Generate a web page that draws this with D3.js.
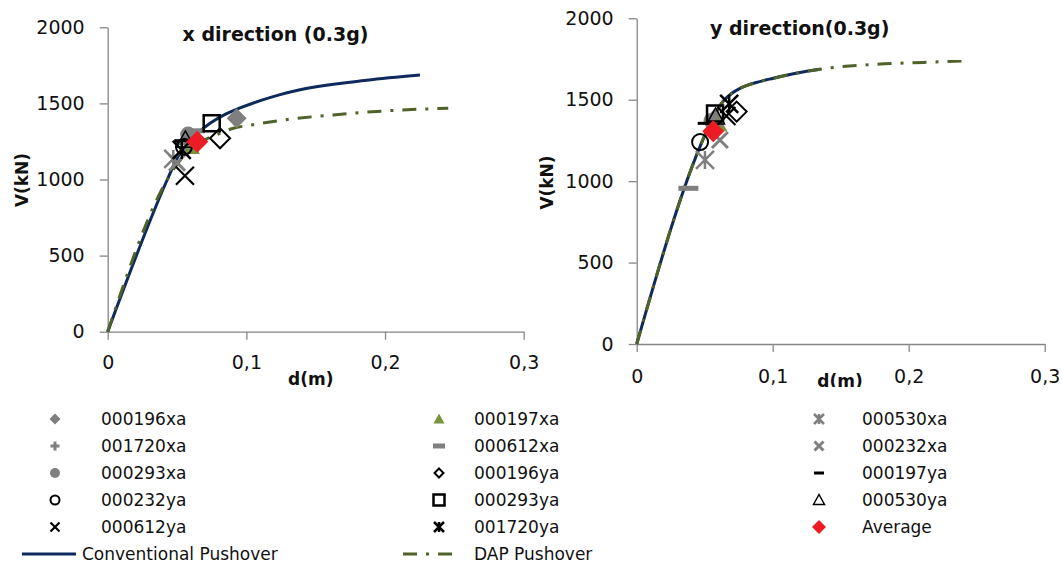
<!DOCTYPE html>
<html>
<head>
<meta charset="utf-8">
<script src="https://cdn.jsdelivr.net/npm/d3@7"></script>
<style>
  body { margin: 0; background: #fff; }
  svg text { font-family: "DejaVu Sans", sans-serif; fill: #111; }
</style>
</head>
<body>
<div id="chart"></div>
<script>
// axis ticks
const dTicks = [0, 0.1, 0.2, 0.3];
const dTickLabels = ["0", "0,1", "0,2", "0,3"];
const vTicks = [0, 500, 1000, 1500, 2000];

// pushover curves, x direction
const xConvD = [0, 0.043, 0.05, 0.06, 0.0738, 0.085, 0.0954, 0.11, 0.1243, 0.1387, 0.1868, 0.2252];
const xConvV = [0, 1000, 1140, 1260, 1369, 1430, 1470, 1518, 1558, 1590, 1652, 1686];
const xDapD = [0, 0.043, 0.05, 0.06, 0.07, 0.08, 0.09, 0.105, 0.1266, 0.1627, 0.1988, 0.2456];
const xDapV = [0, 1000, 1100, 1200, 1260, 1300, 1335, 1360, 1391, 1424, 1450, 1468];

// pushover curves, y direction
const yConvD = [0, 0.05, 0.055, 0.0637, 0.07, 0.076, 0.088, 0.1005, 0.118, 0.1348];
const yConvV = [0, 1280, 1370, 1492, 1540, 1570, 1606, 1632, 1664, 1687];
const yDapD = [0, 0.05, 0.055, 0.0637, 0.07, 0.076, 0.088, 0.1005, 0.118, 0.1348, 0.142, 0.174, 0.211, 0.245];
const yDapV = [0, 1280, 1370, 1492, 1540, 1570, 1606, 1632, 1664, 1687, 1695, 1717, 1729, 1740];

// time-history records (series order as in the legend, row by row)
const records = ["000196xa", "000197xa", "000530xa", "001720xa", "000612xa", "000232xa",
  "000293xa", "000196ya", "000197ya", "000232ya", "000293ya", "000530ya",
  "000612ya", "001720ya", "Average"];
const xDirD = [0.093, 0.06, 0.0473, 0.056, 0.063, 0.05, 0.058, 0.081, 0.053, 0.055, 0.075, 0.056, 0.0557, 0.0534, 0.0646];
const xDirV = [1402, 1215, 1135, 1235, 1320, 1110, 1295, 1271, 1255, 1215, 1369, 1260, 1025, 1194, 1248];
const yDirD = [0.057, 0.06, 0.0502, 0.058, 0.038, 0.0612, 0.055, 0.0735, 0.05, 0.0466, 0.0576, 0.058, 0.066, 0.068, 0.0563];
const yDirV = [1380, 1350, 1130, 1345, 956, 1253, 1370, 1427, 1355, 1240, 1415, 1395, 1400, 1475, 1306];

const gray = "#7f7f7f", navy = "#0e2a5c", olive = "#4f6228";
const style = {
  "000196xa": { shape: "diamond", fill: gray, r: 10, lr: 5.5 },
  "000197xa": { shape: "triangle", fill: "#77933c", r: 9, lr: 5.5 },
  "000530xa": { shape: "star", stroke: gray, sw: 2.5, r: 9, lr: 5 },
  "001720xa": { shape: "plus", stroke: gray, sw: 3, r: 8, lr: 4.5 },
  "000612xa": { shape: "dash", stroke: gray, sw: 5, r: 10, lr: 6 },
  "000232xa": { shape: "x", stroke: gray, sw: 3, r: 8, lr: 4.5 },
  "000293xa": { shape: "circle", fill: gray, r: 8, lr: 5 },
  "000196ya": { shape: "diamond", stroke: "#000", sw: 2, r: 10, lr: 4.5 },
  "000197ya": { shape: "dash", stroke: "#000", sw: 3, r: 7, lr: 5 },
  "000232ya": { shape: "circle", stroke: "#000", sw: 2, r: 8, lr: 4.5 },
  "000293ya": { shape: "square", stroke: "#000", sw: 2.5, r: 8, lr: 5.5 },
  "000530ya": { shape: "triangle", stroke: "#000", sw: 1.5, r: 9, lr: 5.5 },
  "000612ya": { shape: "x", stroke: "#000", sw: 2.2, r: 9, lr: 4.5 },
  "001720ya": { shape: "star", stroke: "#000", sw: 2.5, r: 9, lr: 5 },
  "Average": { shape: "diamond", fill: "#ed1c24", r: 11, lr: 7 }
};

function markerPath(shape, r) {
  switch (shape) {
    case "diamond": return `M0,${-r}L${r},0L0,${r}L${-r},0Z`;
    case "square": return `M${-r},${-r}H${r}V${r}H${-r}Z`;
    case "triangle": return `M0,${-r}L${r},${r * 0.8}L${-r},${r * 0.8}Z`;
    case "circle": return `M${r},0A${r},${r} 0 1,1 ${-r},0A${r},${r} 0 1,1 ${r},0Z`;
    case "x": return `M${-r},${-r}L${r},${r}M${r},${-r}L${-r},${r}`;
    case "star": return `M${-r},${-r}L${r},${r}M${r},${-r}L${-r},${r}M0,${-r}V${r}`;
    case "plus": return `M${-r},0H${r}M0,${-r}V${r}`;
    case "dash": return `M${-r},0H${r}`;
  }
}

function drawMarker(g, name, size) {
  const s = style[name];
  g.append("path")
    .attr("d", markerPath(s.shape, size))
    .attr("fill", s.fill || "none")
    .attr("stroke", s.stroke || "none")
    .attr("stroke-width", s.sw || 0);
}

const svg = d3.select("#chart").append("svg")
  .attr("width", 1062)
  .attr("height", 564);

svg.append("defs").append("clipPath").attr("id", "plotclip")
  .append("rect").attr("x", 0).attr("y", 0).attr("width", 1062).attr("height", 387);

const plots = svg.append("g").attr("clip-path", "url(#plotclip)");

const dapDash = "14,9,3,9";

function drawPanel(p) {
  const x = d3.scaleLinear().domain([0, 0.3]).range([p.left, p.right]);
  const y = d3.scaleLinear().domain([0, 2000]).range([p.bottom, p.top]);
  const g = plots.append("g");

  const xAxis = g.append("g")
    .attr("transform", `translate(0,${p.bottom})`)
    .call(d3.axisBottom(x).tickValues(dTicks).tickSize(8).tickSizeOuter(0)
      .tickPadding(p.xPad).tickFormat((d, i) => dTickLabels[i]));
  const yAxis = g.append("g")
    .attr("transform", `translate(${p.left},0)`)
    .call(d3.axisLeft(y).tickValues(vTicks).tickSize(8).tickSizeOuter(0)
      .tickPadding(p.yPad).tickFormat(d3.format("d")));
  [xAxis, yAxis].forEach(a => {
    a.selectAll("path, line").attr("stroke", "#868686").attr("stroke-width", 1.3);
    a.selectAll("text").attr("font-size", 19).attr("fill", "#111")
      .attr("font-family", "DejaVu Sans");
  });

  const line = d3.line().x(d => x(d[0])).y(d => y(d[1])).curve(d3.curveMonotoneX);

  g.append("path")
    .attr("d", line(d3.zip(p.convD, p.convV)))
    .attr("fill", "none").attr("stroke", navy).attr("stroke-width", 3);
  g.append("path")
    .attr("d", line(d3.zip(p.dapD, p.dapV)))
    .attr("fill", "none").attr("stroke", olive).attr("stroke-width", 3)
    .attr("stroke-dasharray", dapDash);

  records.forEach((name, i) => {
    const m = g.append("g").attr("transform", `translate(${x(p.ptD[i])},${y(p.ptV[i])})`);
    drawMarker(m, name, style[name].r);
  });

  g.append("text")
    .attr("x", p.titleX).attr("y", p.titleY)
    .attr("text-anchor", "middle").attr("font-weight", "bold").attr("font-size", 19)
    .text(p.title);
  g.append("text")
    .attr("transform", `translate(${p.vLabelX},${p.vLabelY}) rotate(-90)`)
    .attr("text-anchor", "middle").attr("font-weight", "bold").attr("font-size", 17)
    .text("V(kN)");
  g.append("text")
    .attr("x", p.dLabelX).attr("y", p.dLabelY)
    .attr("text-anchor", "middle").attr("font-weight", "bold").attr("font-size", 17)
    .text("d(m)");
}

drawPanel({
  left: 107.7, right: 523.7, bottom: 331.7, top: 27.3, xPad: 16, yPad: 15,
  convD: xConvD, convV: xConvV, dapD: xDapD, dapV: xDapV, ptD: xDirD, ptV: xDirV,
  title: "x direction (0.3g)", titleX: 275.5, titleY: 40.7,
  vLabelX: 28, vLabelY: 180, dLabelX: 310.7, dLabelY: 385
});

drawPanel({
  left: 636.7, right: 1044.7, bottom: 344, top: 18.3, xPad: 18, yPad: 15,
  convD: yConvD, convV: yConvV, dapD: yDapD, dapV: yDapV, ptD: yDirD, ptV: yDirV,
  title: "y direction(0.3g)", titleX: 799.7, titleY: 35,
  vLabelX: 553, vLabelY: 182.5, dLabelX: 840, dLabelY: 387
});

// legend: three columns, filled row by row
const legColMarker = [55, 439, 819];
const legColText = [101, 474, 862];
const legRow = d3.scaleLinear().domain([0, 5]).range([419, 554]);
const legend = svg.append("g");

records.forEach((name, i) => {
  const col = i % 3, row = Math.floor(i / 3);
  const m = legend.append("g")
    .attr("transform", `translate(${legColMarker[col]},${legRow(row)})`);
  drawMarker(m, name, style[name].lr);
  legend.append("text")
    .attr("x", legColText[col]).attr("y", legRow(row))
    .attr("dy", "0.36em").attr("font-size", 17)
    .text(name);
});

legend.append("line")
  .attr("x1", 22).attr("x2", 76).attr("y1", legRow(5)).attr("y2", legRow(5))
  .attr("stroke", navy).attr("stroke-width", 3);
legend.append("text")
  .attr("x", legColText[0] - 19).attr("y", legRow(5)).attr("dy", "0.36em")
  .attr("font-size", 17).text("Conventional Pushover");

legend.append("line")
  .attr("x1", 403).attr("x2", 455).attr("y1", legRow(5)).attr("y2", legRow(5))
  .attr("stroke", olive).attr("stroke-width", 3).attr("stroke-dasharray", dapDash);
legend.append("text")
  .attr("x", legColText[1]).attr("y", legRow(5)).attr("dy", "0.36em")
  .attr("font-size", 17).text("DAP Pushover");
</script>
</body>
</html>
